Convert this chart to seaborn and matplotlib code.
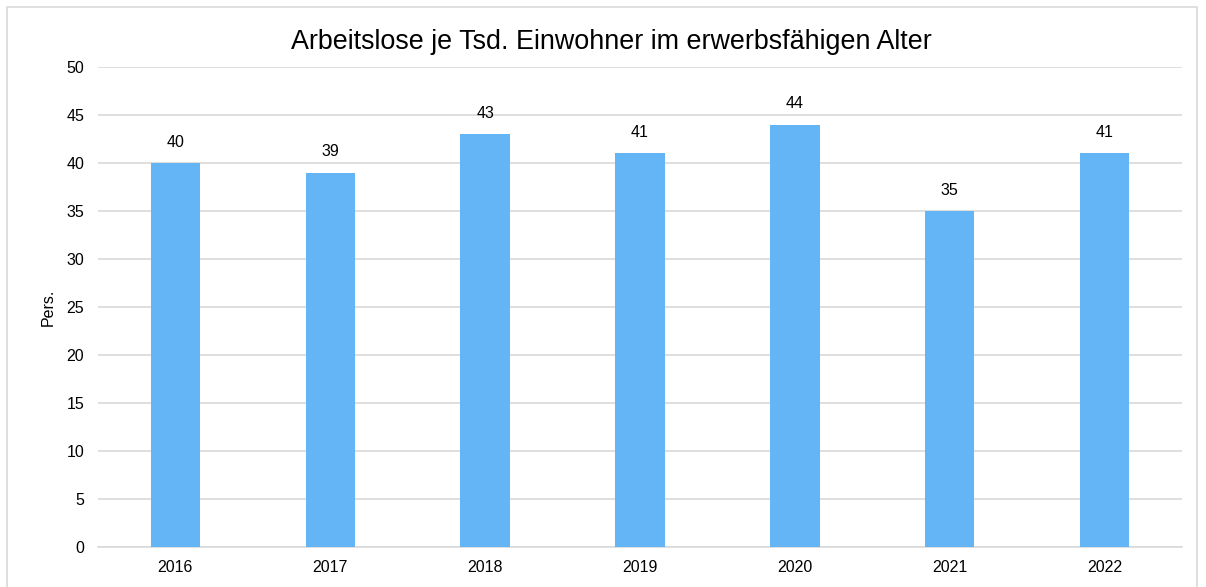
import matplotlib
matplotlib.use("Agg")
import matplotlib.pyplot as plt
import seaborn as sns
import pandas as pd
from matplotlib.patches import Rectangle

years = ["2016", "2017", "2018", "2019", "2020", "2021", "2022"]
values = [40, 39, 43, 41, 44, 35, 41]
title = "Arbeitslose je Tsd. Einwohner im erwerbsfähigen Alter"
ylabel = "Pers."

sns.set_theme(style="white")
plt.rcParams['font.family'] = ['Liberation Sans', 'DejaVu Sans']

W, H = 1206, 587
fig = plt.figure(figsize=(W / 100, H / 100), dpi=100)
ax = fig.add_axes([98 / W, 1 - 547 / H, (1182 - 98) / W, (547 - 67) / H])

df = pd.DataFrame({"year": years, "value": values})
sns.barplot(data=df, x="year", y="value", ax=ax, color="#64B5F6",
            saturation=1, width=0.32, linewidth=0, zorder=3)

ax.set_xlim(-0.5, len(years) - 0.5)
ax.set_ylim(0, 50)
ax.set_yticks(range(0, 51, 5))
ax.yaxis.grid(True, color="#D9D9D9", linewidth=1.2, zorder=0)
ax.set_axisbelow(True)
for s in ["top", "right", "left"]:
    ax.spines[s].set_visible(False)
ax.spines["bottom"].set_color("#D9D9D9")
ax.spines["bottom"].set_linewidth(1.2)
ax.tick_params(axis="both", length=0, labelsize=11.5, colors="#000000")
ax.tick_params(axis="y", pad=10)
ax.tick_params(axis="x", pad=9)
ax.set_xlabel("")
ax.set_ylabel(ylabel, fontsize=11.5, color="#000000")
ax.yaxis.set_label_coords((56 - 98) / 1084, 0.5)

for i, v in enumerate(values):
    ax.annotate(str(v), (i, v), xytext=(0, 15), textcoords="offset points",
                ha="center", va="center", fontsize=11.5, color="#000000")

fig.text(611 / W, 1 - 42 / H, title, ha="center", va="center", fontsize=19.4, color="#000000")

fig.patches.append(Rectangle((7 / W, -0.1), (1197 - 7) / W, 1.1 - 7 / H,
                             transform=fig.transFigure, fill=False,
                             edgecolor="#D9D9D9", linewidth=1.2))

fig.savefig("out.png", dpi=100)
